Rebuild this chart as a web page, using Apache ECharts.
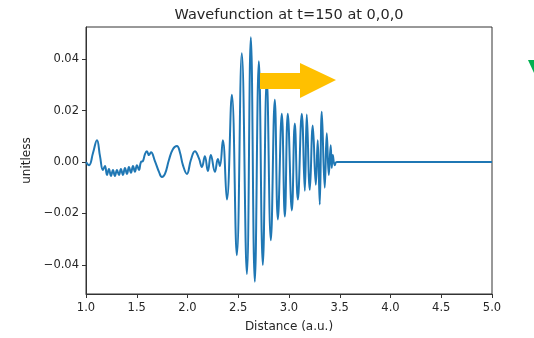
<!DOCTYPE html>
<html>
<head>
<meta charset="utf-8">
<script src="https://cdn.jsdelivr.net/npm/echarts@6/dist/echarts.min.js"></script>
<style>
html,body{margin:0;padding:0;background:#fff;}
#chart{width:534px;height:338px;}
</style>
</head>
<body>
<div id="chart"></div>
<script>
// Data
const distance = [
  1.000,1.030,1.069,1.108,1.138,1.167,1.187,1.207,1.226,1.246,
  1.266,1.285,1.305,1.325,1.344,1.364,1.384,1.404,1.423,1.443,
  1.463,1.482,1.502,1.522,1.541,1.561,1.581,1.600,1.620,1.640,
  1.679,1.719,1.748,1.778,1.817,1.856,1.896,1.925,1.955,1.994,
  2.033,2.073,2.112,2.142,2.171,2.201,2.230,2.270,2.299,2.319,
  2.348,2.388,2.437,2.486,2.535,2.585,2.624,2.663,2.703,2.742,
  2.781,2.821,2.860,2.890,2.929,2.959,2.988,3.028,3.057,3.087,
  3.126,3.156,3.175,3.205,3.234,3.264,3.283,3.303,3.323,3.352,
  3.372,3.392,3.411,3.421,3.431,3.451,3.470,5.000
];
const psi = [
  0.0000,-0.0012,0.0035,0.0085,0.0023,-0.0031,-0.0015,-0.0050,-0.0027,-0.0054,
  -0.0031,-0.0054,-0.0031,-0.0050,-0.0027,-0.0050,-0.0023,-0.0046,-0.0019,-0.0042,
  -0.0015,-0.0038,-0.0012,-0.0031,0.0000,0.0004,0.0031,0.0042,0.0027,0.0038,
  0.0004,-0.0038,-0.0058,-0.0046,0.0008,0.0050,0.0062,0.0038,-0.0012,-0.0046,
  0.0008,0.0042,0.0015,-0.0019,0.0023,-0.0035,0.0027,-0.0038,0.0012,-0.0015,
  0.0085,-0.0146,0.0262,-0.0362,0.0423,-0.0435,0.0485,-0.0465,0.0392,-0.0400,
  0.0323,-0.0304,0.0242,-0.0223,0.0188,-0.0212,0.0188,-0.0188,0.0150,-0.0146,
  0.0188,-0.0112,0.0185,-0.0108,0.0142,-0.0088,0.0085,-0.0165,0.0196,-0.0100,
  0.0112,-0.0050,0.0065,-0.0023,0.0027,-0.0012,0.0000,0.0000
];
const xTicks = [1.0,1.5,2.0,2.5,3.0,3.5,4.0,4.5,5.0];
const yTicks = [-0.04,-0.02,0.00,0.02,0.04];
const titleText = 'Wavefunction at t=150 at 0,0,0';
const xName = 'Distance (a.u.)';
const yName = 'unitless';

const seriesData = distance.map((d, i) => [d, psi[i]]);
const fmtY = v => (v < 0 ? '\u2212' : '') + Math.abs(v).toFixed(2);
const FONT = 'DejaVu Sans';
const TXT = '#262626';

const chart = echarts.init(document.getElementById('chart'), null, {renderer: 'canvas'});
chart.setOption({
  animation: false,
  backgroundColor: '#ffffff',
  grid: {
    left: 86, right: 42, top: 27, bottom: 40,
    show: true, borderColor: '#333', borderWidth: 1, backgroundColor: 'transparent'
  },
  xAxis: {
    type: 'value', min: 1, max: 5,
    name: xName, nameLocation: 'middle', nameGap: 27,
    nameTextStyle: {fontFamily: FONT, fontSize: 12, color: TXT},
    axisLine: {show: true, onZero: false, lineStyle: {color: '#333', width: 1}},
    axisTick: {show: true, length: 4, lineStyle: {color: '#333'}, customValues: xTicks},
    axisLabel: {fontFamily: FONT, fontSize: 11.5, color: TXT, margin: 8,
      customValues: xTicks, formatter: v => Number(v).toFixed(1)},
    splitLine: {show: false}
  },
  yAxis: {
    type: 'value', min: -0.0513, max: 0.0525,
    name: yName, nameLocation: 'middle', nameGap: 49, nameRotate: 90,
    nameTextStyle: {fontFamily: FONT, fontSize: 12, color: TXT},
    axisLine: {show: true, onZero: false, lineStyle: {color: '#333', width: 1}},
    axisTick: {show: true, length: 4, lineStyle: {color: '#333'}, customValues: yTicks},
    axisLabel: {fontFamily: FONT, fontSize: 11.5, color: TXT, margin: 7,
      customValues: yTicks, formatter: v => fmtY(v)},
    splitLine: {show: false}
  },
  series: [{
    type: 'line',
    data: seriesData,
    showSymbol: false,
    smooth: 0.45,
    clip: true,
    lineStyle: {color: '#1f77b4', width: 2},
    itemStyle: {color: '#1f77b4'}
  }],
  graphic: [
    {
      type: 'text', z: 100, x: 289, y: 15,
      style: {text: titleText, fontFamily: FONT, fontSize: 14.5, fill: TXT,
        align: 'center', verticalAlign: 'middle'}
    },
    {
      type: 'polygon', z: 100,
      shape: {points: [[260,73],[300,73],[300,63],[336,80],[300,98],[300,89],[260,89]]},
      style: {fill: '#FFC000'}
    },
    {
      type: 'polygon', z: 100,
      shape: {points: [[528,60],[534,60],[534,73]]},
      style: {fill: '#00B050'}
    }
  ]
});
</script>
</body>
</html>
